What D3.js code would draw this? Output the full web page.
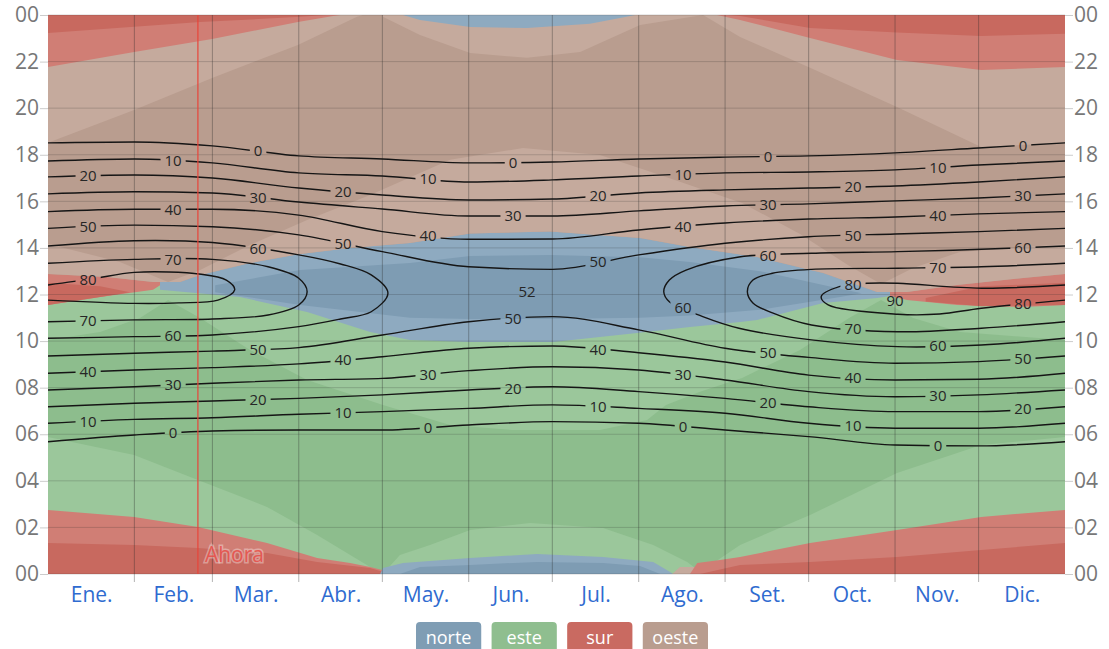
<!DOCTYPE html>
<html>
<head>
<meta charset="utf-8">
<script src="https://cdn.jsdelivr.net/npm/d3@7"></script>
<style>
  body { margin: 0; background: #fff; }
  svg { display: block; font-family: "Open Sans", "Noto Sans", sans-serif; }
</style>
</head>
<body>
<svg id="chart" width="1109" height="649"></svg>
<script>
// months / axis
var months = ["Ene.", "Feb.", "Mar.", "Abr.", "May.", "Jun.", "Jul.", "Ago.", "Set.", "Oct.", "Nov.", "Dic."];
var monthStart = [0, 31, 59, 90, 120, 151, 181, 212, 243, 273, 304, 334, 365];
var hourTicks = [0, 2, 4, 6, 8, 10, 12, 14, 16, 18, 20, 22, 24];
var nowDay = 53.8;

// sun elevation contours: hour of crossing at each monthStart day
var levels = [0, 10, 20, 30, 40, 50];
var morningHours = [
  [5.68, 5.97, 6.14, 6.18, 6.18, 6.40, 6.54, 6.47, 6.18, 5.90, 5.54, 5.50, 5.68],
  [6.47, 6.64, 6.71, 6.86, 6.97, 7.11, 7.26, 7.11, 6.90, 6.47, 6.26, 6.26, 6.47],
  [7.18, 7.33, 7.43, 7.54, 7.69, 7.90, 8.04, 7.83, 7.54, 7.18, 6.97, 6.97, 7.18],
  [7.90, 8.04, 8.19, 8.33, 8.40, 8.73, 8.90, 8.76, 8.33, 7.83, 7.61, 7.69, 7.90],
  [8.62, 8.76, 8.86, 9.02, 9.33, 9.69, 9.79, 9.50, 9.10, 8.54, 8.33, 8.36, 8.62],
  [9.36, 9.48, 9.57, 9.72, 10.26, 10.83, 11.05, 10.48, 9.69, 9.30, 9.05, 9.12, 9.36]
];
var eveningHours = [
  [18.51, 18.55, 18.38, 17.95, 17.82, 17.65, 17.69, 17.82, 17.90, 17.95, 18.08, 18.29, 18.51],
  [17.73, 17.82, 17.65, 17.22, 17.09, 16.83, 16.92, 17.09, 17.22, 17.26, 17.35, 17.56, 17.73],
  [17.05, 17.13, 17.00, 16.57, 16.27, 16.06, 16.10, 16.36, 16.49, 16.57, 16.66, 16.83, 17.05],
  [16.32, 16.41, 16.36, 15.97, 15.67, 15.37, 15.37, 15.59, 15.80, 15.89, 16.02, 16.14, 16.32],
  [15.56, 15.66, 15.66, 15.41, 14.70, 14.37, 14.38, 14.77, 15.07, 15.24, 15.33, 15.46, 15.56],
  [14.84, 14.98, 14.91, 14.56, 13.84, 13.19, 13.08, 13.70, 14.20, 14.48, 14.60, 14.70, 14.84]
];

// closed contours (60, 70, 80) as [day, hour] branches
var eve60L = [[0, 14.08], [31, 14.31], [59, 14.23], [90, 13.70], [105, 13.31], [116, 12.84], [122, 12.06]];
var morn60L = [[0, 10.12], [31, 10.19], [59, 10.26], [90, 10.62], [105, 10.95], [116, 11.26], [122, 12.06]];
var eve60R = [[221, 12.12], [223, 12.62], [229, 13.05], [248, 13.61], [274, 13.77], [305, 13.84], [335, 13.94], [365, 14.08]];
var morn60R = [[221, 12.12], [223, 11.69], [235, 11.05], [248, 10.55], [274, 10.05], [305, 9.76], [335, 9.83], [365, 10.12]];
var eve70L = [[0, 13.34], [31, 13.51], [59, 13.51], [79, 13.19], [90, 12.70], [93, 12.12]];
var morn70L = [[0, 10.83], [31, 10.91], [59, 10.95], [79, 11.12], [90, 11.55], [93, 12.12]];
var eve70R = [[251, 12.12], [253, 12.62], [260, 12.91], [274, 13.08], [305, 13.13], [335, 13.19], [365, 13.34]];
var morn70R = [[251, 12.12], [253, 11.64], [260, 11.21], [274, 10.69], [305, 10.40], [335, 10.55], [365, 10.83]];
var eve80L = [[0, 12.41], [16, 12.67], [31, 12.95], [55, 12.87], [64, 12.62], [67, 12.20]];
var morn80L = [[0, 11.76], [31, 11.62], [47, 11.64], [61, 11.76], [67, 12.20]];
var eve80R = [[277.5, 11.91], [284, 12.34], [294, 12.48], [305, 12.48], [335, 12.27], [365, 12.41]];
var morn80R = [[277.5, 11.91], [280, 11.55], [305, 11.15], [320, 11.16], [335, 11.41], [365, 11.76]];
var peakLabels = [[171.9, 12.11, "52"], [304.0, 11.72, "90"]];

// sun direction regions, [day, hour] outlines
var brownEdge = [[0, 12.88], [21.2, 12.75], [37.7, 12.54], [47.4, 12.54], [54.6, 12.84], [72.5, 13.35], [90.5, 13.74], [108.4, 14.00], [129.9, 14.21], [151.5, 14.62], [180.2, 14.70], [212.5, 14.43], [230.4, 14.04], [254.5, 13.61], [278.2, 12.92], [297.6, 12.11], [308.3, 12.11], [326.3, 12.41], [350, 12.71], [365, 12.88]];
var westLightTop = [[0, 14.17], [25.8, 13.40], [43.1, 12.54], [54.6, 13.05], [72.5, 14.13], [93.0, 15.20], [115.6, 16.27], [144.3, 17.78], [170.5, 18.29], [198.1, 17.99], [219.7, 17.13], [249.1, 15.93], [269.9, 14.60], [287.5, 13.23], [299.0, 12.45], [310.5, 13.14], [327.3, 13.83], [365, 14.17]];
var eastLightNoonLow = [[0, 10.05], [18.7, 10.39], [33.0, 10.99], [43.1, 11.76], [54.6, 10.99], [72.5, 9.62], [93.0, 8.33], [120.2, 7.26], [144.3, 6.40], [166.9, 6.18], [198.1, 6.18], [215.0, 6.61], [221.8, 7.26], [234.0, 7.82], [249.1, 8.42], [269.9, 9.62], [287.5, 10.99], [299.0, 11.76], [310.5, 10.99], [327.3, 10.39], [365, 10.05]];
var northNoonLow = [[40.2, 12.20], [68.9, 11.89], [93.0, 11.25], [115.6, 10.39], [129.9, 10.05], [151.5, 9.96], [181.3, 9.96], [211.4, 10.35], [230.4, 10.61], [248.4, 10.82], [254.5, 10.91], [278.2, 11.64], [297.6, 11.85], [302.2, 11.94]];
var northCore = [[60, 12.1], [90.5, 11.55], [129.9, 11.0], [151.5, 10.95], [180.2, 10.95], [212.5, 11.0], [230.4, 11.1], [255.6, 11.34], [284.3, 11.89], [292, 12.05], [284.3, 12.25], [255.6, 13.0], [230.4, 13.4], [212.5, 13.6], [180.2, 13.7], [151.5, 13.65], [129.9, 13.35], [90.5, 13.05], [60, 12.4]];
var southNoonL = [[0, 11.55], [18.7, 11.89], [37.7, 12.2], [40.2, 12.4], [40.2, 13.5], [0, 13.5]];
var southCoreL = [[0, 11.55], [18.7, 11.89], [29.4, 12.1], [18.7, 12.35], [0, 12.5]];
var southNoonR = [[302.2, 11.94], [308.3, 11.76], [326.3, 11.55], [350, 11.46], [365, 11.55], [365, 13.5], [302.2, 13.5]];
var southCoreR = [[315, 11.7], [335, 11.5], [365, 11.55], [365, 12.5], [335, 12.35], [315, 11.85]];
var westDuskA = [[0, 18.51], [30.9, 19.92], [58.9, 21.3], [89.7, 22.71], [110.9, 23.92], [113, 24], [0, 24]];
var westDuskB = [[120.2, 24], [120.2, 23.92], [133.5, 23.14], [151.5, 22.37], [171.9, 22.16], [191.0, 22.41], [212.5, 23.57], [235.1, 24]];
var westDuskC = [[235.1, 24], [248.4, 23.06], [273.5, 21.73], [304.7, 20.05], [334.9, 18.33], [365, 18.51], [365, 24]];
var southTopL = [[0, 21.77], [30.9, 22.41], [58.9, 22.97], [89.7, 23.70], [102.3, 23.96], [105, 24], [0, 24]];
var southTopCoreL = [[0, 23.23], [30.9, 23.5], [54.6, 23.7], [90.5, 23.92], [100, 24], [0, 24]];
var southTopR = [[240.1, 24], [248.4, 23.79], [273.5, 23.01], [304.7, 22.07], [334.9, 21.64], [365, 21.77], [365, 24]];
var southTopCoreR = [[244, 24], [248.4, 23.96], [273.5, 23.44], [304.7, 23.25], [334.9, 23.1], [365, 23.2], [365, 24]];
var northTop = [[127.4, 24], [133.5, 23.79], [151.5, 23.49], [171.9, 23.44], [194.5, 23.62], [205.3, 23.87], [210.7, 24]];
var eastDawnA = [[0, 5.88], [30.9, 5.11], [53.8, 4.04], [78.6, 2.88], [96.6, 1.67], [115.6, 0.30], [120.2, 0], [0, 0]];
var eastDawnB = [[120.2, 0], [126.3, 0.82], [137.1, 1.25], [151.5, 1.89], [173, 2.19], [199.2, 1.98], [217.2, 1.25], [229.4, 0.52], [235.1, 0]];
var eastDawnC = [[233, 0], [248.4, 1.25], [273.5, 2.53], [304.7, 4.34], [334.9, 5.54], [365, 5.88], [365, 0]];
var southBotL = [[0, 2.75], [30.9, 2.45], [53.8, 2.02], [78.6, 1.33], [96.6, 0.69], [108.4, 0.47], [115.6, 0.30], [122.8, 0.09], [124.5, 0], [0, 0]];
var southBotCoreL = [[0, 1.33], [30.9, 1.25], [53.8, 1.12], [78.6, 0.90], [96.6, 0.52], [115.6, 0.26], [122.8, 0], [0, 0]];
var northBot = [[119.2, 0], [120.2, 0.26], [127.4, 0.47], [151.5, 0.69], [175.5, 0.86], [199.2, 0.73], [217.2, 0.52], [223.3, 0.09], [224.3, 0]];
var northBotCore = [[126.3, 0], [133.5, 0.3], [151.5, 0.39], [175.5, 0.52], [199.2, 0.47], [212.5, 0.34], [219.7, 0]];
var westBot = [[224, 0], [226.8, 0.3], [233, 0.3], [235, 0]];
var southBotR = [[230.4, 0], [233, 0.47], [241.2, 0.60], [248.4, 0.73], [273.5, 1.33], [304.7, 1.89], [334.9, 2.45], [365, 2.75], [365, 0]];
var southBotCoreR = [[234, 0], [248.4, 0.39], [273.5, 0.52], [304.7, 0.73], [334.9, 1.03], [365, 1.33], [365, 0]];

var legendNames = ["norte", "este", "sur", "oeste"];

// colours
var dkGreen = "#8dbd8d", ltGreen = "#9bc79b", dkBrown = "#b99d8f", ltBrown = "#c5aa9d";
var dkRed = "#c8695f", ltRed = "#d07e75", dkBlue = "#7e9cb3", ltBlue = "#8eaac0";
var legendColors = ["#7f9db4", "#8fbe8f", "#c96a61", "#b99d8f"];

var svg = d3.select("#chart");
var x = d3.scaleLinear().domain([0, 365]).range([48, 1065]);
var y = d3.scaleLinear().domain([0, 24]).range([574, 15]);

var defs = svg.append("defs");
defs.append("clipPath").attr("id", "plot").append("rect")
    .attr("x", x(0)).attr("y", y(24))
    .attr("width", x(365) - x(0)).attr("height", y(0) - y(24));

var poly = d3.line().x(d => x(d[0])).y(d => y(d[1])).curve(d3.curveLinearClosed);

var regions = [
  [[[0, 0], [365, 0], [365, 24], [0, 24]], dkGreen],
  [[[0, 13.2], [365, 13.2]].concat(eastLightNoonLow.slice().reverse()), ltGreen],
  [northNoonLow.concat([[302.2, 14.8], [40.2, 14.8]]), ltBlue],
  [northCore, dkBlue],
  [southNoonL, ltRed], [southCoreL, dkRed],
  [southNoonR, ltRed], [southCoreR, dkRed],
  [brownEdge.concat([[365, 24], [0, 24]]), dkBrown],
  [brownEdge.concat(westLightTop.slice().reverse()), ltBrown],
  [westDuskA, ltBrown], [westDuskB, ltBrown], [westDuskC, ltBrown],
  [southTopL, ltRed], [southTopCoreL, dkRed],
  [southTopR, ltRed], [southTopCoreR, dkRed],
  [northTop, ltBlue],
  [eastDawnA, ltGreen], [eastDawnB, ltGreen], [eastDawnC, ltGreen],
  [southBotL, ltRed], [southBotCoreL, dkRed],
  [northBot, ltBlue], [northBotCore, dkBlue], [westBot, ltBrown],
  [southBotR, ltRed], [southBotCoreR, dkRed]
];

svg.append("g")
    .attr("clip-path", "url(#plot)")
  .selectAll("path")
  .data(regions)
  .join("path")
    .attr("d", r => poly(r[0]))
    .attr("fill", r => r[1]);

// grid
var grid = svg.append("g");
grid.selectAll("line.h")
  .data(hourTicks)
  .join("line")
    .attr("class", "h")
    .attr("x1", x(0)).attr("x2", x(365))
    .attr("y1", d => y(d)).attr("y2", d => y(d))
    .attr("stroke", "rgba(40,40,40,0.2)");
grid.selectAll("line.v")
  .data(monthStart.slice(1, -1))
  .join("line")
    .attr("class", "v")
    .attr("x1", d => x(d)).attr("x2", d => x(d))
    .attr("y1", y(24)).attr("y2", y(0) + 8)
    .attr("stroke", "rgba(40,40,40,0.35)");

// contours
var smooth = d3.line().x(d => x(d[0])).y(d => y(d[1])).curve(d3.curveMonotoneX);
var loopLine = d3.line().x(d => x(d[0])).y(d => y(d[1])).curve(d3.curveCatmullRom.alpha(0.5));

var lines = [];
var branches = [];
levels.forEach(function(lv, i) {
  var m = monthStart.map((d, j) => [d, morningHours[i][j]]);
  var e = monthStart.map((d, j) => [d, eveningHours[i][j]]);
  lines.push({d: smooth(m)}, {d: smooth(e)});
  branches.push({pts: m, level: lv, eve: false}, {pts: e, level: lv, eve: true});
});
var loops = [
  [eve60L, morn60L, 60, true], [eve60R, morn60R, 60, false],
  [eve70L, morn70L, 70, true], [eve70R, morn70R, 70, false],
  [eve80L, morn80L, 80, true], [eve80R, morn80R, 80, false]
];
loops.forEach(function(l) {
  var pts = l[3]
    ? l[0].concat(l[1].slice(0, -1).reverse())
    : l[0].slice().reverse().concat(l[1].slice(1));
  lines.push({d: loopLine(pts)});
  branches.push({pts: l[0], level: l[2], eve: true}, {pts: l[1], level: l[2], eve: false});
});

function hourAt(br, day) {
  for (var i = 0; i < br.length - 1; i++) {
    var a = br[i], b = br[i + 1];
    if (day >= a[0] && day <= b[0]) {
      var t = (day - a[0]) / ((b[0] - a[0]) || 1);
      return a[1] + t * (b[1] - a[1]);
    }
  }
  return null;
}

var labels = [];
branches.forEach(function(b) {
  var k = b.level / 10;
  var off = b.eve ? ((2 - k) % 3 + 3) % 3 : ((1 - k) % 3 + 3) % 3;
  for (var c = off; c < 12; c += 3) {
    var day = 14.4 + 30.5 * c;
    var h = hourAt(b.pts, day);
    if (h !== null) labels.push({day: day, hour: h, text: String(b.level)});
  }
});

var mask = defs.append("mask").attr("id", "gaps");
mask.append("rect").attr("width", 1109).attr("height", 649).attr("fill", "white");

var contourG = svg.append("g").attr("clip-path", "url(#plot)");
contourG.append("g")
    .attr("mask", "url(#gaps)")
  .selectAll("path")
  .data(lines)
  .join("path")
    .attr("d", d => d.d)
    .attr("fill", "none")
    .attr("stroke", "#151515")
    .attr("stroke-width", 1.4);

var labelG = svg.append("g")
    .attr("font-size", 15)
    .attr("fill", "#262626")
    .attr("text-anchor", "middle");
labelG.selectAll("text")
  .data(labels)
  .join("text")
    .attr("x", d => x(d.day))
    .attr("y", d => y(d.hour))
    .attr("dy", "0.35em")
    .text(d => d.text)
    .each(function() {
      var bb = this.getBBox();
      mask.append("rect")
          .attr("x", bb.x - 4).attr("y", bb.y + 2)
          .attr("width", bb.width + 8).attr("height", bb.height - 4)
          .attr("fill", "black");
    });
labelG.selectAll("text.peak")
  .data(peakLabels)
  .join("text")
    .attr("class", "peak")
    .attr("x", d => x(d[0]))
    .attr("y", d => y(d[1]))
    .attr("dy", "0.35em")
    .text(d => d[2]);

// now line
svg.append("line")
    .attr("x1", x(nowDay)).attr("x2", x(nowDay))
    .attr("y1", y(24)).attr("y2", y(0))
    .attr("stroke", "#e8453a")
    .attr("stroke-width", 1.2);
svg.append("text")
    .attr("x", x(nowDay) + 7)
    .attr("y", 562)
    .attr("font-size", 21)
    .attr("fill", "rgba(232,70,64,0.8)")
    .attr("stroke", "rgba(255,255,255,0.35)")
    .attr("stroke-width", 3)
    .attr("paint-order", "stroke")
    .text("Ahora");

// axes
var fmt = h => String(h % 24).padStart(2, "0");
function styleAxis(g) {
  g.select(".domain").remove();
  g.selectAll(".tick line").attr("stroke", "#cccccc");
  g.selectAll(".tick text").attr("fill", "#777").attr("font-size", 21)
      .attr("font-family", "\"Open Sans\", sans-serif");
}
svg.append("g")
    .attr("transform", "translate(" + x(0) + ",0)")
    .call(d3.axisLeft(y).tickValues(hourTicks).tickSize(8).tickPadding(1).tickFormat(fmt))
    .call(styleAxis);
svg.append("g")
    .attr("transform", "translate(" + x(365) + ",0)")
    .call(d3.axisRight(y).tickValues(hourTicks).tickSize(8).tickPadding(1).tickFormat(fmt))
    .call(styleAxis);

var monthMid = months.map((m, i) => (monthStart[i] + monthStart[i + 1]) / 2);
svg.append("g")
    .attr("transform", "translate(0," + y(0) + ")")
    .call(d3.axisBottom(x).tickValues(monthMid).tickSize(0).tickPadding(13).tickFormat((d, i) => months[i]))
    .call(g => g.select(".domain").remove())
    .call(g => g.selectAll(".tick text").attr("fill", "#2f6bd0").attr("font-size", 21)
        .attr("font-family", "\"Open Sans\", sans-serif"));

// legend
var boxW = 63, gap = 10;
var legendX = d3.scaleBand()
    .domain(legendNames)
    .range([557 - (4 * boxW + 3 * gap) / 2 - gap / 2, 557 + (4 * boxW + 3 * gap) / 2 + gap / 2])
    .paddingInner(gap / (boxW + gap))
    .paddingOuter(0);
var legend = svg.append("g")
  .selectAll("g")
  .data(legendNames)
  .join("g")
    .attr("transform", d => "translate(" + (legendX(d) + gap / 2) + ",622)");
legend.append("rect")
    .attr("width", legendX.bandwidth())
    .attr("height", 32)
    .attr("rx", 4)
    .attr("fill", (d, i) => legendColors[i]);
legend.append("text")
    .attr("x", legendX.bandwidth() / 2)
    .attr("y", 22)
    .attr("text-anchor", "middle")
    .attr("fill", "#fff")
    .attr("font-size", 18)
    .text(d => d);
</script>
</body>
</html>
